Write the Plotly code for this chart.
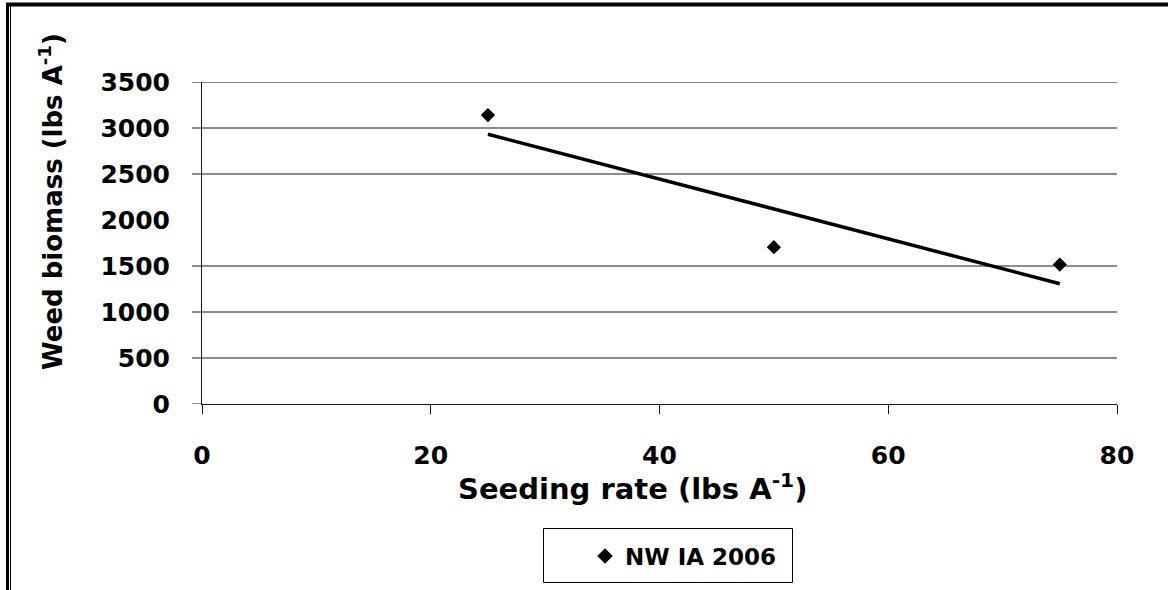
import numpy as np
import plotly.graph_objects as go

# Data
seeding_rate = [25, 50, 75]
weed_biomass = [3140, 1705, 1515]
series_name = "NW IA 2006"

x_ticks = [0, 20, 40, 60, 80]
y_ticks = [0, 500, 1000, 1500, 2000, 2500, 3000, 3500]
# gridlines visible in the reference (2000 line is absent in the original)
grid_values = [500, 1000, 1500, 2500, 3000, 3500]

# Linear trend line fitted to the points
slope, intercept = np.polyfit(seeding_rate, weed_biomass, 1)
trend_x = [min(seeding_rate), max(seeding_rate)]
trend_y = [slope * v + intercept for v in trend_x]

FONT = "DejaVu Sans"

fig = go.Figure()
fig.add_trace(go.Scatter(
    x=seeding_rate, y=weed_biomass, mode="markers", name=series_name,
    marker=dict(symbol="diamond", size=11, color="black"),
))
fig.add_trace(go.Scatter(
    x=trend_x, y=trend_y, mode="lines", showlegend=False,
    line=dict(color="black", width=3.5), hoverinfo="skip",
))

L, R, T, B = 202, 51, 82, 186
W, H = 1168, 590
pw = W - L - R
ph = H - T - B

def px_x(px):
    return (px - L) / pw

def px_y(py):
    return (H - B - py) / ph

shapes = []
for g in grid_values:
    shapes.append(dict(type="line", xref="paper", yref="y", x0=px_x(192), x1=1,
                       y0=g, y1=g, line=dict(color="#1a1a1a", width=1), layer="below"))
# y tick at 0
shapes.append(dict(type="line", xref="paper", yref="y", x0=px_x(192), x1=0,
                   y0=0, y1=0, line=dict(color="#1a1a1a", width=1)))
# page frame fragments
shapes.append(dict(type="line", xref="paper", yref="paper", x0=px_x(6), x1=px_x(1170),
                   y0=px_y(4.5), y1=px_y(4.5), line=dict(color="black", width=4)))
shapes.append(dict(type="line", xref="paper", yref="paper", x0=px_x(7.5), x1=px_x(7.5),
                   y0=px_y(3), y1=px_y(592), line=dict(color="black", width=3)))
shapes.append(dict(type="line", xref="paper", yref="paper", x0=px_x(10.5), x1=px_x(10.5),
                   y0=px_y(6), y1=px_y(592), line=dict(color="black", width=1)))
# legend box
shapes.append(dict(type="rect", xref="paper", yref="paper",
                   x0=px_x(543.5), x1=px_x(792.5), y0=px_y(528.5), y1=px_y(582.5),
                   line=dict(color="black", width=1), fillcolor="white", layer="below"))

fig.update_layout(
    width=W, height=H,
    margin=dict(l=L, r=R, t=T, b=B),
    paper_bgcolor="white", plot_bgcolor="white",
    font=dict(family=FONT, color="black"),
    showlegend=True,
    legend=dict(
        x=px_x(585), y=px_y(556), xanchor="left", yanchor="middle",
        borderwidth=0, bgcolor="rgba(0,0,0,0)",
        font=dict(family=FONT, size=23, color="black", weight="bold"),
        itemsizing="constant",
    ),
    shapes=shapes,
    annotations=[
        dict(text="<b>Seeding rate (lbs A<sup>-1</sup>)</b>", xref="paper", yref="paper",
             x=px_x(632), y=px_y(487), xanchor="center", yanchor="middle", showarrow=False,
             font=dict(family=FONT, size=29, color="black")),
        dict(text="<b>Weed biomass (lbs A<sup>-1</sup>)</b>", xref="paper", yref="paper",
             x=px_x(51), y=px_y(202), xanchor="center", yanchor="middle", showarrow=False,
             textangle=-90, font=dict(family=FONT, size=26, color="black")),
    ],
)

fig.update_xaxes(
    range=[0, 80], tickvals=x_ticks, showgrid=False, zeroline=False,
    showline=True, linecolor="#1a1a1a", linewidth=1,
    ticks="outside", ticklen=9, tickwidth=1, tickcolor="#1a1a1a",
    ticklabelstandoff=20,
    tickfont=dict(family=FONT, size=25, color="black", weight="bold"),
)
fig.update_yaxes(
    range=[0, 3500], tickvals=y_ticks, showgrid=False, zeroline=False,
    showline=True, linecolor="#1a1a1a", linewidth=1,
    ticks="", ticklabelstandoff=26,
    tickfont=dict(family=FONT, size=25, color="black", weight="bold"),
)

fig.write_html("out.html", config={"displayModeBar": False},
               post_script="document.body.style.margin='0px';")
